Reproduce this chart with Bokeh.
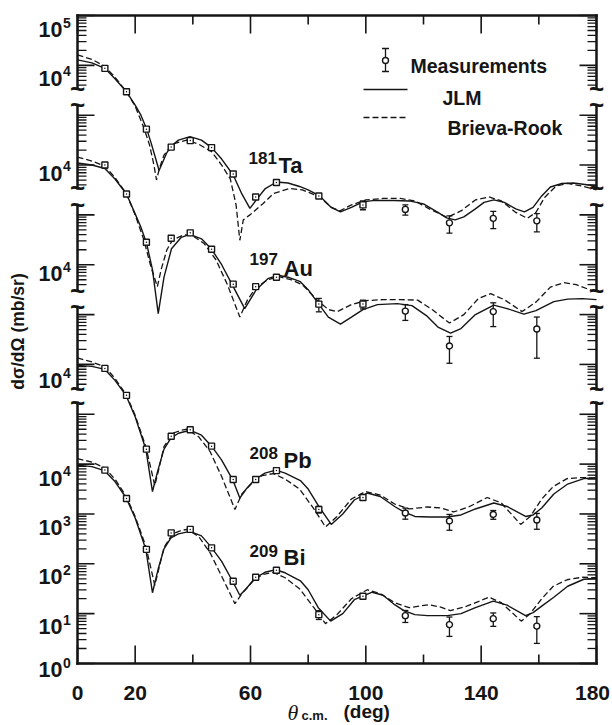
import math
from bokeh.plotting import figure
from bokeh.models import ColumnDataSource, Range1d
from bokeh.core.properties import value
from bokeh.embed import file_html
from bokeh.resources import INLINE

# ------------------------------------------------------------------ data
# Values are log10 of d(sigma)/d(Omega) in mb/sr, each read against the
# "10^4" tick that belongs to its own curve.
meas_theta = [9.5, 17.0, 23.9, 32.5, 39.1, 46.5, 54.0, 61.8, 69.0, 83.7, 99.0, 113.7, 129.0, 144.2, 159.3]

ta_meas = [3.94, 3.47, 2.72, 2.36, 2.49, 2.35, 1.82, 1.36, 1.65, 1.38, 1.20, 1.11, 0.84, 0.93, 0.88]
ta_err = [0.05, 0.05, 0.06, 0.06, 0.05, 0.06, 0.08, 0.08, 0.08, 0.10, 0.20, 0.23, 0.38, 0.38, 0.40]
au_meas = [4.00, 3.42, 2.45, 2.53, 2.64, 2.31, 1.61, 1.56, 1.75, 1.21, 1.21, 1.07, 0.37, 1.06, 0.71]
au_err = [0.05, 0.05, 0.06, 0.06, 0.05, 0.06, 0.08, 0.08, 0.08, 0.30, 0.20, 0.35, 0.55, 0.50, 0.74]
pb_meas = [3.92, 3.38, 2.30, 2.56, 2.69, 2.36, 1.69, 1.69, 1.87, 1.09, 1.33, 1.02, 0.86, 0.99, 0.88]
pb_err = [0.05, 0.05, 0.06, 0.06, 0.05, 0.06, 0.08, 0.08, 0.08, 0.15, 0.10, 0.25, 0.35, 0.20, 0.35]
bi_meas = [3.88, 3.31, 2.29, 2.62, 2.69, 2.32, 1.65, 1.73, 1.87, 0.98, 1.35, 0.96, 0.78, 0.90, 0.75]
bi_err = [0.05, 0.05, 0.06, 0.06, 0.05, 0.06, 0.08, 0.08, 0.08, 0.20, 0.10, 0.27, 0.42, 0.30, 0.55]

# JLM (solid) and Brieva-Rook (dashed) calculations
ta_jlm_theta = [0, 5, 9.5, 13, 17, 20, 22, 24, 25.5, 27, 28.3, 29.5, 31, 32.6, 35, 39, 43, 46.5, 50, 54, 57,
                59.8, 62, 65, 69, 73, 77, 80, 84, 88, 91.2, 95, 99, 103, 110, 115, 120, 125, 128, 131, 134,
                138, 141, 144.4, 148, 152, 155, 158, 161, 164, 168, 172, 176, 180]
ta_jlm = [4.11, 4.05, 3.94, 3.73, 3.47, 3.20, 3.00, 2.72, 2.45, 2.15, 1.89, 2.05, 2.25, 2.38, 2.50, 2.57, 2.50,
          2.35, 2.12, 1.80, 1.42, 1.13, 1.30, 1.52, 1.66, 1.64, 1.57, 1.50, 1.38, 1.15, 1.06, 1.15, 1.26, 1.29,
          1.29, 1.28, 1.22, 1.05, 0.94, 0.90, 0.96, 1.12, 1.25, 1.30, 1.25, 1.12, 1.06, 1.15, 1.38, 1.56, 1.63,
          1.64, 1.61, 1.58]
ta_br_theta = [0, 5, 9.5, 13, 17, 20, 23, 25, 26.5, 27.4, 28.5, 30, 33, 37.8, 42, 46.5, 50, 53, 55, 56.3, 57.5,
               59.8, 64.4, 68, 73.6, 78, 84, 88, 91, 95, 100, 106, 112, 117, 122, 128.2, 133, 138, 142.7, 147,
               152, 156, 159, 162, 166, 170, 175, 180]
ta_br = [4.21, 4.12, 3.98, 3.76, 3.47, 3.18, 2.75, 2.40, 2.00, 1.70, 1.95, 2.20, 2.42, 2.50, 2.42, 2.27, 2.00,
         1.72, 1.20, 0.49, 0.90, 1.00, 1.23, 1.43, 1.53, 1.50, 1.36, 1.15, 1.08, 1.20, 1.30, 1.33, 1.33, 1.28,
         1.12, 0.95, 1.08, 1.30, 1.36, 1.28, 1.05, 0.93, 1.05, 1.35, 1.58, 1.63, 1.58, 1.50]

au_jlm_theta = [0, 5, 9.5, 13, 17, 20, 22, 24, 26, 28, 30, 32.6, 36, 39, 43, 46.5, 50, 54, 58, 62, 66, 69.6, 73,
                77.3, 80, 83.8, 87, 91.2, 95, 99, 104, 110.9, 116, 121, 125, 129.4, 133, 138, 144.4, 149, 154.8,
                159, 165.2, 170, 175, 180]
au_jlm = [4.04, 4.00, 3.93, 3.72, 3.42, 3.02, 2.75, 2.42, 1.90, 1.02, 1.75, 2.32, 2.55, 2.61, 2.52, 2.31, 2.00,
          1.56, 1.12, 1.50, 1.72, 1.79, 1.75, 1.66, 1.50, 1.20, 0.95, 0.81, 0.95, 1.10, 1.20, 1.22, 1.18, 0.98,
          0.75, 0.63, 0.72, 1.00, 1.19, 1.12, 1.01, 1.08, 1.26, 1.31, 1.32, 1.30]
au_br_theta = [0, 5, 9.5, 13, 17, 20, 23, 25.5, 27.7, 29, 31, 33, 37, 40, 44, 48, 52, 56.3, 59, 62, 66, 70, 74,
               78, 83, 87, 90.1, 95, 100, 106, 112, 118, 123, 129, 134, 139, 143.3, 148, 154.2, 159, 164, 168.7,
               173, 178, 180]
au_br = [4.16, 4.08, 3.98, 3.75, 3.42, 3.00, 2.50, 1.95, 1.56, 1.90, 2.30, 2.50, 2.60, 2.58, 2.42, 2.10, 1.60,
         0.95, 1.30, 1.55, 1.70, 1.76, 1.70, 1.60, 1.30, 1.10, 1.06, 1.20, 1.28, 1.30, 1.30, 1.29, 1.10, 0.83,
         1.00, 1.32, 1.42, 1.30, 1.06, 1.25, 1.55, 1.64, 1.60, 1.49, 1.47]

pb_jlm_theta = [0, 5, 9.5, 13, 16.8, 20, 23.7, 26, 28, 30, 32.4, 35, 39, 43, 46.5, 50, 53.8, 56.3, 58.5, 61.5,
                65, 68.8, 72, 77.3, 80, 83.7, 88, 92, 96, 100.5, 105, 110, 113.2, 117, 122, 128, 133, 138, 144.4,
                149, 155.4, 158, 161, 165.2, 170, 175.6, 180]
pb_jlm = [3.98, 3.96, 3.90, 3.68, 3.38, 2.95, 2.30, 1.45, 1.90, 2.30, 2.52, 2.62, 2.68, 2.58, 2.36, 2.08, 1.69,
          1.32, 1.50, 1.69, 1.82, 1.88, 1.82, 1.67, 1.50, 1.15, 0.79, 1.00, 1.28, 1.42, 1.35, 1.15, 1.04, 0.95,
          0.94, 0.94, 0.98, 1.10, 1.22, 1.15, 0.95, 0.98, 1.12, 1.40, 1.60, 1.71, 1.72]
pb_br_theta = [0, 5, 9.5, 13, 16.8, 20, 23.7, 25.5, 26.8, 28, 30, 33, 36, 38, 42, 46, 50, 54.6, 57, 61, 64, 67.9,
               72, 77, 82, 86, 90, 95, 99.9, 105, 110, 115, 121.3, 126, 130.5, 136, 142.1, 147, 153.7, 157, 161,
               165, 169.8, 175, 180]
pb_br = [4.13, 4.05, 3.95, 3.72, 3.40, 2.98, 2.35, 1.90, 1.57, 1.85, 2.35, 2.62, 2.68, 2.70, 2.55, 2.25, 1.75,
         1.09, 1.40, 1.65, 1.77, 1.81, 1.70, 1.50, 1.10, 0.74, 0.95, 1.30, 1.45, 1.38, 1.20, 1.10, 1.14, 1.12,
         1.04, 1.15, 1.33, 1.22, 0.79, 0.95, 1.30, 1.55, 1.71, 1.73, 1.72]

bi_jlm_theta = [0, 5, 9.3, 13, 16.8, 20, 23.7, 26, 28, 30, 32.4, 35, 39, 43, 46.3, 50, 53.6, 56.3, 58.5, 61.5,
                65, 68.8, 72, 77.3, 80, 83.5, 87.8, 92, 96, 102.2, 106, 110, 113.2, 117, 121.3, 128.3, 133, 138,
                144.2, 149, 155.4, 158, 161, 165.2, 170, 175.6, 180]
bi_jlm = [3.98, 3.95, 3.87, 3.65, 3.33, 2.92, 2.29, 1.42, 1.90, 2.30, 2.52, 2.60, 2.65, 2.56, 2.34, 2.05, 1.67,
          1.37, 1.50, 1.71, 1.83, 1.88, 1.82, 1.66, 1.48, 1.12, 0.85, 1.00, 1.28, 1.43, 1.37, 1.18, 1.06, 0.98,
          0.96, 0.96, 1.00, 1.12, 1.25, 1.17, 0.96, 1.02, 1.15, 1.33, 1.55, 1.69, 1.70]
bi_br_theta = [0, 5, 9.3, 13, 16.8, 20, 23.7, 25.5, 26.8, 28, 30, 33, 36, 38, 42, 46, 50, 54.6, 57, 61, 64, 67.9,
               72, 77, 82, 86, 90, 95, 100.5, 105, 110, 115, 121.9, 126, 129.4, 135, 142.7, 147, 153.9, 157, 161,
               165, 169.8, 175, 180]
bi_br = [4.11, 4.04, 3.93, 3.70, 3.36, 2.95, 2.35, 1.90, 1.57, 1.85, 2.33, 2.60, 2.67, 2.69, 2.55, 2.22, 1.75,
         1.20, 1.40, 1.66, 1.78, 1.83, 1.72, 1.50, 1.12, 0.80, 0.98, 1.30, 1.48, 1.40, 1.22, 1.12, 1.18, 1.13,
         1.06, 1.15, 1.33, 1.22, 0.85, 1.00, 1.30, 1.55, 1.68, 1.73, 1.72]

# stacking: decades added to each target on the common axis
targets = ["Ta", "Au", "Pb", "Bi"]
mass_numbers = ["181", "197", "208", "209"]
decade_shift = [8, 6, 2, 0]

# axis ticks
ytick_decades = [0, 1, 2, 3, 4, 6, 8, 10, 12, 13]
ytick_exponents = ["0", "1", "2", "3", "4", "4", "4", "4", "4", "5"]
xtick_major = [0, 20, 60, 100, 140, 180]
xtick_labels = ["0", "20", "60", "100", "140", "180"]
xtick_minor = [40, 80, 120, 160]

# ------------------------------------------------------------------ layout (pixels)
W, H = 612, 725
FRAME_L, FRAME_R, FRAME_T, FRAME_B = 77, 596, 15, 663
X_MIN, X_MAX = 0, 180
TOP_DECADE = 13
PX_DEG = (FRAME_R - FRAME_L) / (X_MAX - X_MIN)
PX_DEC = (FRAME_B - FRAME_T) / TOP_DECADE
axis_breaks = [(5.23, 5.50), (7.15, 7.48), (9.20, 9.53), (11.20, 11.53)]   # gaps in the side frame (decades)
ylab_dy = [-2, 5, 5, 6, 6, 8, 1, 0, 5, 6]   # px: centre of each hand-set y label below its tick
FONT = "Liberation Sans"
INK = "#151515"


def th(px):
    return X_MIN + (px - FRAME_L) / PX_DEG


def yv(py):
    return 10.0 ** ((FRAME_B - py) / PX_DEC)


def dec_py(d):
    return FRAME_B - d * PX_DEC


p = figure(width=W, height=H, x_range=Range1d(th(0), th(W)), y_range=Range1d(yv(H), yv(0)),
           y_axis_type="log", x_axis_location=None, y_axis_location=None,
           output_backend="svg", toolbar_location=None,
           min_border=0, min_border_left=0, min_border_right=0, min_border_top=0, min_border_bottom=0)
p.outline_line_color = None
p.grid.visible = False
p.background_fill_color = "white"
p.border_fill_color = "white"


def text(xs, ys, ts, size, style="bold", align="left", baseline="alphabetic", font=FONT, angle=0.0):
    p.text(x=xs, y=ys, text=ts, text_font=value(font), text_font_size=value(size),
           text_font_style=value(style), text_align=value(align), text_baseline=value(baseline),
           text_color=INK, angle=angle)


# ---- frame: full bottom/top lines, broken left/right lines
p.segment(x0=[X_MIN, X_MIN], y0=[yv(FRAME_B), yv(FRAME_T)], x1=[X_MAX, X_MAX], y1=[yv(FRAME_B), yv(FRAME_T)],
          line_color=INK, line_width=2.5, line_cap="square")
edges = [0] + [v for br in axis_breaks for v in br] + [TOP_DECADE]
seg_lo = [10.0 ** edges[i] for i in range(0, len(edges), 2)]
seg_hi = [10.0 ** edges[i + 1] for i in range(0, len(edges), 2)]
for xv in (X_MIN, X_MAX):
    p.segment(x0=[xv] * len(seg_lo), y0=seg_lo, x1=[xv] * len(seg_lo), y1=seg_hi,
              line_color=INK, line_width=2.5, line_cap="square")
# break marks
tx, ty = [], []
for xv in (X_MIN, X_MAX):
    for br in axis_breaks:
        for d in br:
            tx.append(xv)
            ty.append(10.0 ** d)
text(tx, ty, ["~"] * len(tx), "26px", align="center", baseline="middle")

# ---- x ticks (inward, bottom and top)
MAJ, MIN_ = 18, 9
for base_py, sgn in ((FRAME_B, -1), (FRAME_T, 1)):
    p.segment(x0=xtick_major, y0=[yv(base_py)] * len(xtick_major), x1=xtick_major,
              y1=[yv(base_py + sgn * MAJ)] * len(xtick_major), line_color=INK, line_width=1.6)
    p.segment(x0=xtick_minor, y0=[yv(base_py)] * len(xtick_minor), x1=xtick_minor,
              y1=[yv(base_py + sgn * MIN_)] * len(xtick_minor), line_color=INK, line_width=1.6)
xlab_nudge = [0, 0, 0, 0, 0, -4]   # px; last label sits against the page edge
text([t + n / PX_DEG for t, n in zip(xtick_major, xlab_nudge)], [yv(FRAME_B + 29)] * len(xtick_major),
     xtick_labels, "21px", align="center")

# ---- y ticks (inward, left and right)
ymaj = [10.0 ** k for k in range(TOP_DECADE + 1)]
ymin = []
for k in range(TOP_DECADE):
    for m in range(2, 10):
        d = k + math.log10(m)
        if any(lo - 0.03 <= d <= hi + 0.03 for lo, hi in axis_breaks):
            continue
        ymin.append(m * 10.0 ** k)
for xv, sgn in ((X_MIN, 1), (X_MAX, -1)):
    p.segment(x0=[xv] * len(ymaj), y0=ymaj, x1=[xv + sgn * 17 / PX_DEG] * len(ymaj), y1=ymaj,
              line_color=INK, line_width=1.6)
    p.segment(x0=[xv] * len(ymin), y0=ymin, x1=[xv + sgn * 9 / PX_DEG] * len(ymin), y1=ymin,
              line_color=INK, line_width=1.3)
# y tick labels: "10" with superscript exponent
text([th(62)] * len(ytick_decades), [yv(dec_py(d) + dy + 8) for d, dy in zip(ytick_decades, ylab_dy)],
     ["10"] * len(ytick_decades), "21.5px", align="right")
text([th(62.5)] * len(ytick_decades), [yv(dec_py(d) + dy + 1) for d, dy in zip(ytick_decades, ylab_dy)],
     ytick_exponents, "14px", align="left")

# ---- curves and measurements
curves = [(ta_jlm_theta, ta_jlm, ta_br_theta, ta_br), (au_jlm_theta, au_jlm, au_br_theta, au_br),
          (pb_jlm_theta, pb_jlm, pb_br_theta, pb_br), (bi_jlm_theta, bi_jlm, bi_br_theta, bi_br)]
meas = [(ta_meas, ta_err), (au_meas, au_err), (pb_meas, pb_err), (bi_meas, bi_err)]

for (jt, jv, bt, bv), (mv, me), sh in zip(curves, meas, decade_shift):
    p.line(jt, [10.0 ** (v + sh) for v in jv], line_color=INK, line_width=1.4)
    p.line(bt, [10.0 ** (v + sh) for v in bv], line_color=INK, line_width=1.3, line_dash="6 3")
    y = [10.0 ** (v + sh) for v in mv]
    lo = [yy * (1 - e) for yy, e in zip(y, me)]
    hi = [yy * (1 + e) for yy, e in zip(y, me)]
    src = ColumnDataSource(dict(x=meas_theta, y=y, lo=lo, hi=hi,
                                mk=["square_dot" if t < 105 else "circle" for t in meas_theta]))
    p.segment(x0="x", y0="lo", x1="x", y1="hi", source=src, line_color=INK, line_width=1.3)
    p.scatter("x", "lo", source=src, marker="dash", size=6, line_color=INK, line_width=1.3)
    p.scatter("x", "hi", source=src, marker="dash", size=6, line_color=INK, line_width=1.3)
    p.scatter("x", "y", source=src, marker="mk", size=6, line_color=INK, line_width=1.4, fill_color="white")

# ---- nucleus labels (pixel positions of mass number and symbol)
mass_px = [(248, 157), (249, 258), (249, 452), (249, 550)]
sym_px = [(278, 165), (283, 268), (283, 460), (283, 557)]
text([th(a) for a, b in mass_px], [yv(b) for a, b in mass_px], mass_numbers, "17px")
text([th(a) for a, b in sym_px], [yv(b) for a, b in sym_px], targets, "22px")

# ---- legend
LX = th(385)
p.segment(x0=[LX], y0=[yv(71)], x1=[LX], y1=[yv(48)], line_color=INK, line_width=1.3)
p.scatter([LX, LX], [yv(71), yv(48)], marker="dash", size=7, line_color=INK, line_width=1.3)
p.scatter([LX], [yv(60)], marker="circle", size=6, line_color=INK, line_width=1.4, fill_color="white")
p.line([th(363), th(407)], [yv(89)] * 2, line_color=INK, line_width=1.4)
p.line([th(363), th(407)], [yv(117)] * 2, line_color=INK, line_width=1.3, line_dash="6 3")
text([th(410), th(442), th(447)], [yv(65), yv(97), yv(127)], ["Measurements", "JLM", "Brieva-Rook"], "19.5px")

# ---- axis titles
text([th(17)], [yv(331)], ["d\u03c3/d\u03a9 (mb/sr)"], "17.5px", align="center", baseline="middle",
     angle=math.pi / 2)
text([th(287)], [yv(712)], ["\u03b8"], "22px", style="italic", font="Liberation Serif")
text([th(301)], [yv(715)], ["c.m."], "13px")
text([th(343)], [yv(711)], ["(deg)"], "19px")

open("out.html", "w").write(file_html(p, INLINE))
